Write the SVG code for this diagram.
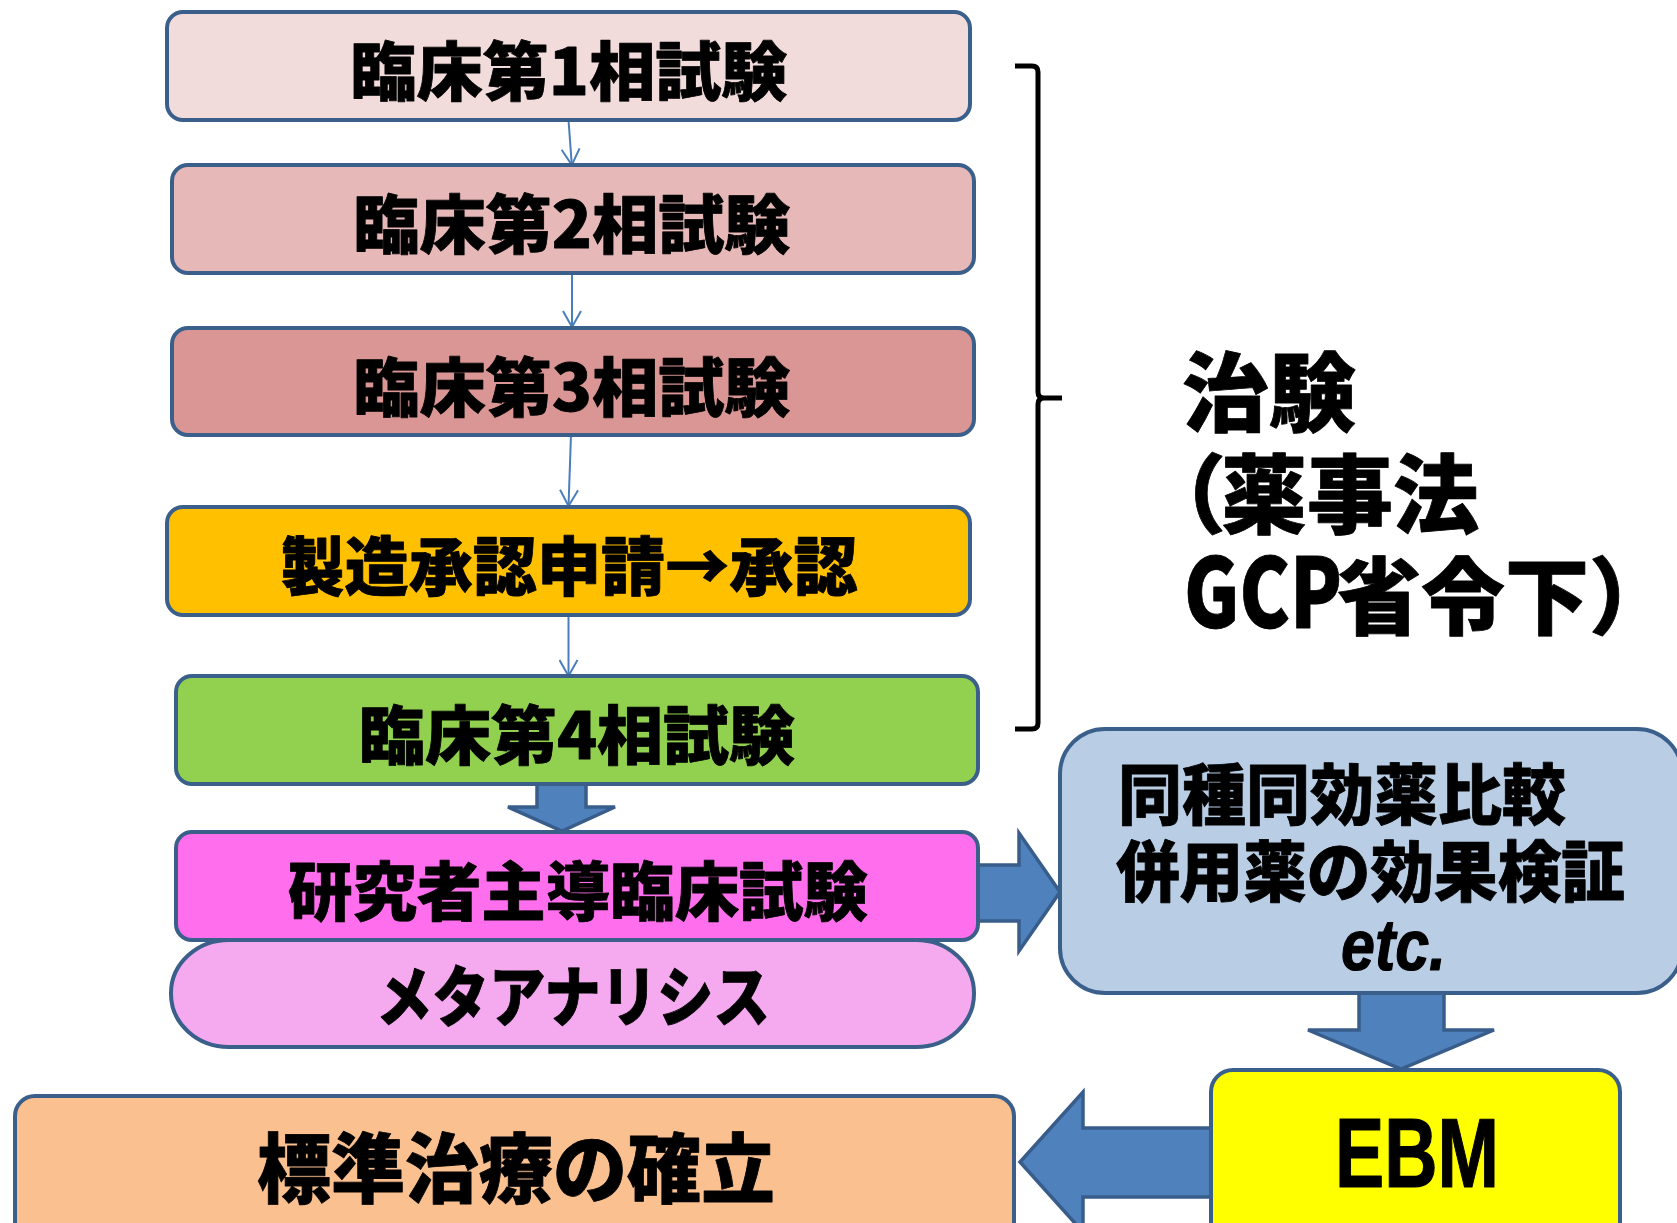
<svg xmlns="http://www.w3.org/2000/svg" width="1677" height="1223" viewBox="0 0 1677 1223">
<style>
.box{stroke:#3A5F8B;stroke-width:4}
.blk{fill:#4F81BD;stroke:#385D8A;stroke-width:3.5;stroke-linejoin:miter}
.thin{stroke:#4A7EBB;stroke-width:2;fill:none}
.jp{font-family:"Noto Sans CJK JP","Noto Sans CJK SC",sans-serif;font-weight:900;fill:#000;stroke:#000;stroke-width:0.8;stroke-linejoin:round}
.lat{font-family:"Liberation Sans",Arial,sans-serif;font-weight:bold;fill:#000;stroke:#000;stroke-width:1.2;stroke-linejoin:round}
</style>
<defs>
<marker id="vh" viewBox="0 0 18 20" refX="17" refY="10" markerWidth="18" markerHeight="20" markerUnits="userSpaceOnUse" orient="auto">
<path d="M1,1 L17,10 L1,19" fill="none" stroke="#4A7EBB" stroke-width="2"/>
</marker>
</defs>
<rect width="1677" height="1223" fill="#fff"/>
<g id="connectors">
<line class="thin" x1="568.5" y1="120" x2="571.8" y2="165" marker-end="url(#vh)"/>
<line class="thin" x1="572" y1="273" x2="572" y2="327" marker-end="url(#vh)"/>
<line class="thin" x1="571" y1="435" x2="568.5" y2="506" marker-end="url(#vh)"/>
<line class="thin" x1="568.5" y1="615" x2="568.5" y2="676" marker-end="url(#vh)"/>
<polygon class="blk" points="537,782 586,782 586,807 615,807 562,831 508,807 537,807"/>
<polygon class="blk" points="976,865 1019,865 1019,833 1060,892 1019,951 1019,921 976,921"/>
<polygon class="blk" points="1359,991 1444,991 1444,1030 1494,1030 1401,1069 1308,1030 1359,1030"/>
<polygon class="blk" points="1213,1128 1083,1128 1083,1092 1020,1162 1083,1232 1083,1197 1213,1197"/>
<path d="M1015,66 H1032 Q1038,66 1038,72 V392 Q1038,398 1044,398 H1062 M1044,398 Q1038,398 1038,404 V723 Q1038,729 1032,729 H1015" fill="none" stroke="#000" stroke-width="5"/>
</g>
<g id="phase1">
<rect class="box" x="167" y="12" width="803" height="108" rx="16" fill="#F2DCDB"/>
<text class="jp" x="569" y="95" font-size="64" text-anchor="middle" textLength="437" lengthAdjust="spacingAndGlyphs">臨床第1相試験</text>
</g>
<g id="phase2">
<rect class="box" x="172" y="165" width="802" height="108" rx="16" fill="#E6B9B8"/>
<text class="jp" x="572" y="248" font-size="64" text-anchor="middle" textLength="437" lengthAdjust="spacingAndGlyphs">臨床第2相試験</text>
</g>
<g id="phase3">
<rect class="box" x="172" y="328" width="802" height="107" rx="16" fill="#D99694"/>
<text class="jp" x="572" y="411" font-size="64" text-anchor="middle" textLength="437" lengthAdjust="spacingAndGlyphs">臨床第3相試験</text>
</g>
<g id="approval">
<rect class="box" x="167" y="507" width="803" height="108" rx="16" fill="#FFC000"/>
<text class="jp" x="569" y="590" font-size="64" text-anchor="middle" textLength="577" lengthAdjust="spacingAndGlyphs">製造承認申請→承認</text>
</g>
<g id="phase4">
<rect class="box" x="176" y="676" width="802" height="108" rx="16" fill="#92D050"/>
<text class="jp" x="577" y="759" font-size="64" text-anchor="middle" textLength="436" lengthAdjust="spacingAndGlyphs">臨床第4相試験</text>
</g>
<g id="investigator">
<rect class="box" x="176" y="832" width="802" height="108" rx="16" fill="#FF6EEC"/>
<text class="jp" x="578" y="915" font-size="64" text-anchor="middle" textLength="580" lengthAdjust="spacingAndGlyphs">研究者主導臨床試験</text>
</g>
<g id="meta">
<rect class="box" x="171" y="940" width="803" height="107" rx="58" ry="53" fill="#F5AAF0"/>
<text class="jp" x="573" y="1021" font-size="66" text-anchor="middle" textLength="394" lengthAdjust="spacingAndGlyphs">メタアナリシス</text>
</g>
<g id="standard">
<rect class="box" x="15" y="1096" width="999" height="150" rx="20" fill="#FAC090"/>
<text class="jp" x="516" y="1197" font-size="76" text-anchor="middle" textLength="518" lengthAdjust="spacingAndGlyphs">標準治療の確立</text>
</g>
<g id="chiken">
<text class="jp" x="1182" y="425" font-size="86" textLength="174" lengthAdjust="spacingAndGlyphs">治験</text>
<text class="jp" x="1140" y="527" font-size="86">（<tspan x="1221">薬事法</tspan></text>
<text class="jp" x="1184" y="628" font-size="86"><tspan font-size="96" textLength="158" lengthAdjust="spacingAndGlyphs">GCP</tspan><tspan x="1337" font-size="84">省令下）</tspan></text>
</g>
<g id="comparison">
<rect class="box" x="1060" y="729" width="622" height="264" rx="45" fill="#B9CDE5"/>
<text class="jp" x="1118" y="819" font-size="66" textLength="448" lengthAdjust="spacingAndGlyphs">同種同効薬比較</text>
<text class="jp" x="1116" y="896" font-size="66" textLength="509" lengthAdjust="spacingAndGlyphs">併用薬の効果検証</text>
<text class="lat" x="1341" y="970" font-size="72" font-style="italic" textLength="105" lengthAdjust="spacingAndGlyphs">etc.</text>
</g>
<g id="ebm">
<rect class="box" x="1211" y="1070" width="409" height="180" rx="22" fill="#FFFF00"/>
<text class="lat" x="1335" y="1187" font-size="98" textLength="164" lengthAdjust="spacingAndGlyphs">EBM</text>
</g>
</svg>
